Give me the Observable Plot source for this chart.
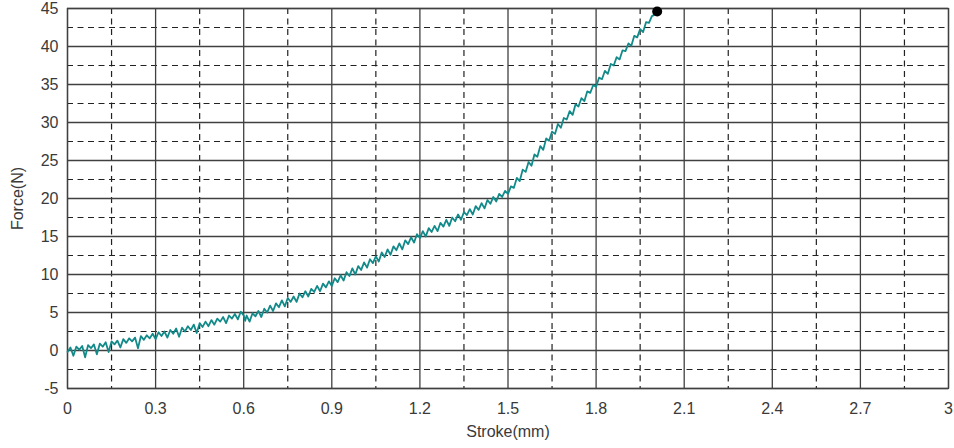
<!DOCTYPE html>
<html>
<head>
<meta charset="utf-8">
<script src="https://cdn.jsdelivr.net/npm/d3@7"></script>
<script src="https://cdn.jsdelivr.net/npm/@observablehq/plot@0.6"></script>
<style>
  html, body { margin: 0; padding: 0; background: #fff; }
  #chart svg { display: block; }
</style>
</head>
<body>
<div id="chart"></div>
<script>
// Stroke (mm) values
const stroke = [
  0.00,0.01,0.02,0.03,0.04,0.05,0.06,0.07,0.08,0.09,
  0.10,0.11,0.12,0.13,0.14,0.15,0.16,0.17,0.18,0.19,
  0.20,0.21,0.22,0.23,0.24,0.25,0.26,0.27,0.28,0.29,
  0.30,0.31,0.32,0.33,0.34,0.35,0.36,0.37,0.38,0.39,
  0.40,0.41,0.42,0.43,0.44,0.45,0.46,0.47,0.48,0.49,
  0.50,0.51,0.52,0.53,0.54,0.55,0.56,0.57,0.58,0.59,
  0.60,0.605,0.61,0.62,0.63,0.64,0.65,0.66,0.67,0.68,0.69,
  0.70,0.71,0.72,0.73,0.74,0.75,0.76,0.77,0.78,0.79,
  0.80,0.81,0.82,0.83,0.84,0.85,0.86,0.87,0.88,0.89,
  0.90,0.91,0.92,0.93,0.94,0.95,0.96,0.97,0.98,0.99,
  1.00,1.01,1.02,1.03,1.04,1.05,1.06,1.07,1.08,1.09,
  1.10,1.11,1.12,1.13,1.14,1.15,1.16,1.17,1.18,1.19,
  1.20,1.21,1.22,1.23,1.24,1.25,1.26,1.27,1.28,1.29,
  1.30,1.31,1.32,1.33,1.34,1.35,1.36,1.37,1.38,1.39,
  1.40,1.41,1.42,1.43,1.44,1.45,1.46,1.47,1.48,1.49,
  1.50,1.51,1.52,1.53,1.54,1.55,1.56,1.57,1.58,1.59,
  1.60,1.61,1.62,1.63,1.64,1.65,1.66,1.67,1.68,1.69,
  1.70,1.71,1.72,1.73,1.74,1.75,1.76,1.77,1.78,1.79,
  1.80,1.81,1.82,1.83,1.84,1.85,1.86,1.87,1.88,1.89,
  1.90,1.91,1.92,1.93,1.94,1.95,1.96,1.97,1.98,1.99,
  2.00,2.008
];
// Force (N) values
const force = [
  -0.2,0.4,-0.7,0.5,0.1,0.6,-0.9,0.7,0.3,0.8,
  -0.5,0.9,0.5,1.1,-0.2,1.2,0.8,1.3,0.4,1.5,
  1.0,1.6,1.2,1.7,0.3,1.9,1.4,2.0,1.6,2.2,
  1.5,2.4,1.9,2.5,1.7,2.7,2.2,2.9,1.8,3.0,
  2.5,3.2,2.7,3.4,2.3,3.6,3.1,3.8,3.2,4.0,
  3.4,4.2,3.8,4.4,3.6,4.6,4.2,4.8,4.1,5.1,
  4.6,3.9,4.6,3.8,4.9,4.5,5.2,4.4,5.5,5.0,5.9,
  5.2,6.2,5.7,6.6,5.8,6.9,6.4,7.1,6.4,7.5,
  7.0,7.8,7.1,8.1,7.7,8.5,7.8,8.8,8.3,9.1,
  8.5,9.5,9.0,9.9,9.2,10.3,9.8,10.8,10.0,11.1,
  10.6,11.6,10.9,12.0,11.5,12.4,11.7,12.9,12.3,13.3,
  12.6,13.7,13.2,14.1,13.3,14.5,14.0,14.9,14.2,15.3,
  14.8,15.7,15.0,16.1,15.6,16.4,15.7,16.8,16.3,17.2,
  16.4,17.5,17.0,17.9,17.2,18.2,17.8,18.6,17.9,19.0,
  18.5,19.4,18.7,19.8,19.3,20.2,19.6,20.6,20.2,21.0,
  20.6,21.6,21.4,22.7,22.3,23.8,23.5,24.8,24.3,25.8,
  25.5,26.9,26.4,27.9,27.6,28.8,28.5,29.8,29.3,30.6,
  30.4,31.5,31.0,32.4,32.1,33.2,32.8,34.1,33.9,34.9,
  34.7,35.9,35.7,36.8,36.4,37.7,37.5,38.6,38.3,39.5,
  39.4,40.4,40.1,41.4,41.2,42.3,41.9,43.2,43.1,44.0,
  44.2,44.6
];
// End point marker
const endStroke = [2.008];
const endForce = [44.6];

// Tick values
const xTicks = [0, 0.3, 0.6, 0.9, 1.2, 1.5, 1.8, 2.1, 2.4, 2.7, 3];
const yTicks = [-5, 0, 5, 10, 15, 20, 25, 30, 35, 40, 45];
const xMinor = [0.15, 0.45, 0.75, 1.05, 1.35, 1.65, 1.95, 2.25, 2.55, 2.85];
const yMinor = [-2.5, 2.5, 7.5, 12.5, 17.5, 22.5, 27.5, 32.5, 37.5, 42.5];

const curve = stroke.map((s, i) => ({s, f: force[i]}));
const endPt = endStroke.map((s, i) => ({s, f: endForce[i]}));

const fmt = d => String(d);

const chart = Plot.plot({
  width: 954,
  height: 448,
  marginLeft: 67,
  marginRight: 6,
  marginTop: 8,
  marginBottom: 60,
  style: {fontFamily: "'Liberation Sans', Arial, sans-serif", fontSize: "16px", color: "#3a3a3a", background: "#fff"},
  x: {domain: [0, 3]},
  y: {domain: [-5, 45]},
  marks: [
    Plot.ruleX(xMinor, {stroke: "#222", strokeWidth: 1.2, strokeDasharray: "6,4.5"}),
    Plot.ruleY(yMinor, {stroke: "#222", strokeWidth: 1.2, strokeDasharray: "6,4.5"}),
    Plot.ruleX(xTicks, {stroke: "#404040", strokeWidth: 1.3}),
    Plot.ruleY(yTicks, {stroke: "#404040", strokeWidth: 1.3}),
    Plot.frame({stroke: "#404040", strokeWidth: 1.3}),
    Plot.line(curve, {x: "s", y: "f", stroke: "#138a8a", strokeWidth: 1.8}),
    Plot.dot(endPt, {x: "s", y: "f", r: 5, fill: "#000", stroke: "none"}),
    Plot.axisX(xTicks, {tickSize: 0, tickPadding: 14, tickFormat: fmt, fontSize: 16,
      label: "Stroke(mm)", labelAnchor: "center", labelArrow: "none", labelOffset: 48}),
    Plot.axisY(yTicks, {tickSize: 0, tickPadding: 9, tickFormat: fmt, fontSize: 16,
      label: "Force(N)", labelAnchor: "center", labelArrow: "none", labelOffset: 56})
  ]
});
document.getElementById("chart").appendChild(chart);
</script>
</body>
</html>
